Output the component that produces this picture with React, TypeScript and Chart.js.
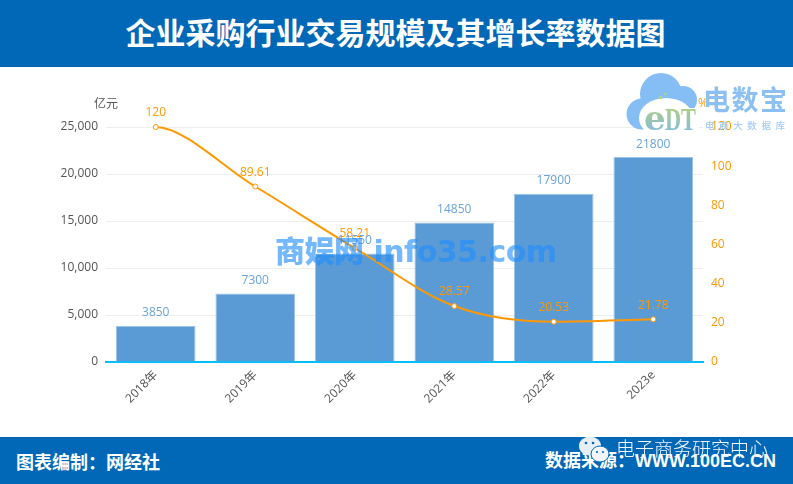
import React, { useEffect, useRef } from "react";
import { Chart, registerables } from "chart.js";

Chart.register(...registerables);

const categories = ["2018年", "2019年", "2020年", "2021年", "2022年", "2023e"];
const scaleValues = [3850, 7300, 11550, 14850, 17900, 21800];
const growthRates = [120, 89.61, 58.21, 28.57, 20.53, 21.78];
const title = "企业采购行业交易规模及其增长率数据图";
const leftUnit = "亿元";
const rightUnit = "%";
const footerLeft = "图表编制：网经社";
const footerRight = "数据来源：WWW.100EC.CN";

const CJK = '"Noto Sans CJK SC", "Noto Sans", sans-serif';
const LATIN = '"Open Sans", "Noto Sans CJK SC", sans-serif';
const BAR = "#5b9bd5";
const ORANGE = "#ff9800";

const flatStartPlugin = {
  id: "flatStartPlugin",
  beforeDatasetsDraw(chart: any) {
    chart.data.datasets.forEach((ds: any, i: number) => {
      if (ds.type !== "line") return;
      const meta = chart.getDatasetMeta(i);
      meta.dataset.updateControlPoints(chart.chartArea, "x");
      const [first, second] = meta.data;
      first.cp2x = first.x + (second.x - first.x) * 0.28;
      first.cp2y = first.y;
    });
  },
};

const labelPlugin = {
  id: "labelPlugin",
  afterDatasetsDraw(chart: any) {
    const { ctx } = chart;
    ctx.save();
    ctx.font = `12px ${LATIN}`;
    ctx.textAlign = "center";
    ctx.textBaseline = "middle";
    chart.data.datasets.forEach((ds: any, i: number) => {
      const meta = chart.getDatasetMeta(i);
      ctx.fillStyle = ds.type === "line" ? ORANGE : "#6aa3da";
      meta.data.forEach((el: any, j: number) => {
        ctx.fillText(String(ds.data[j]), el.x, el.y - (ds.type === "line" ? 14 : 13));
      });
    });
    ctx.fillStyle = "#555";
    ctx.fillText(leftUnit, chart.chartArea.left, 105);
    ctx.fillStyle = ORANGE;
    ctx.fillText(rightUnit, chart.chartArea.right, 104);
    ctx.restore();
  },
};

export default function App() {
  const ref = useRef<HTMLCanvasElement>(null);
  useEffect(() => {
    const chart = new Chart(ref.current as HTMLCanvasElement, {
      type: "bar",
      data: {
        labels: categories,
        datasets: [
          {
            type: "line",
            data: growthRates,
            yAxisID: "y1",
            borderColor: ORANGE,
            borderWidth: 2,
            backgroundColor: "#ffffff",
            pointBackgroundColor: "#ffffff",
            pointBorderColor: ORANGE,
            pointBorderWidth: 1,
            pointRadius: 2.5,
            tension: 0.4,
            cubicInterpolationMode: "monotone",
            clip: false,
            order: 1,
          },
          {
            type: "bar",
            data: scaleValues,
            yAxisID: "y",
            backgroundColor: BAR,
            borderColor: "#9dc3e6",
            borderWidth: 1,
            categoryPercentage: 1,
            barPercentage: 0.8,
            order: 2,
          },
        ],
      } as any,
      options: {
        animation: false,
        responsive: false,
        layout: { padding: { top: 127, left: 0, right: 0, bottom: 0 } },
        plugins: { legend: { display: false }, tooltip: { enabled: false } },
        scales: {
          x: {
            grid: { display: false, drawTicks: false },
            border: { color: "#00bfff", width: 2 },
            ticks: {
              color: "#555",
              font: { size: 12, family: LATIN },
              maxRotation: 45,
              minRotation: 45,
              padding: 6,
            },
            afterFit(s: any) {
              s.height = 122;
            },
          },
          y: {
            position: "left",
            min: 0,
            max: 25000,
            grid: { color: "#eeeeee", drawTicks: false },
            border: { display: false },
            ticks: {
              stepSize: 5000,
              color: "#555",
              padding: 8,
              font: { size: 12, family: LATIN },
              callback: (v: any) => Number(v).toLocaleString("en-US"),
            },
            afterFit(s: any) {
              s.width = 106;
            },
          },
          y1: {
            position: "right",
            min: 0,
            max: 120,
            grid: { display: false, drawTicks: false },
            border: { display: false },
            ticks: {
              stepSize: 20,
              color: ORANGE,
              padding: 8,
              font: { size: 12, family: LATIN },
            },
            afterFit(s: any) {
              s.width = 90;
            },
          },
        },
      } as any,
      plugins: [flatStartPlugin, labelPlugin],
    });
    return () => chart.destroy();
  }, []);

  return (
    <div style={{ position: "fixed", left: 0, top: 0, width: 793, height: 484, background: "#fff", overflow: "hidden", fontFamily: CJK }}>
      <canvas ref={ref} width={793} height={484} style={{ position: "absolute", left: 0, top: 0, display: "block" }} />
      <div style={{ position: "absolute", left: -1, top: 0, width: 793, height: 67, color: "#fff", fontSize: 30, fontWeight: 700, lineHeight: "62px", textAlign: "center", zIndex: 2 }}>
        {title}
      </div>
      <div style={{ position: "absolute", left: 0, top: 0, width: 793, height: 67, background: "#0068b7", zIndex: 1 }} />
      <div style={{ position: "absolute", left: 0, top: 437, width: 793, height: 47, background: "#0068b7" }} />
      <div style={{ position: "absolute", left: 16, top: 449, color: "#fff", fontSize: 18, fontWeight: 700, lineHeight: "24px", whiteSpace: "nowrap" }}>
        {footerLeft}
      </div>
      <div style={{ position: "absolute", left: 545, top: 449, color: "#fff", fontSize: 18, fontWeight: 700, lineHeight: "24px", whiteSpace: "nowrap", fontFamily: `"Liberation Sans", ${CJK}` }}>
        {footerRight}
      </div>
      <svg style={{ position: "absolute", left: 578, top: 434 }} width="34" height="32" viewBox="0 0 34 32">
        <ellipse cx="12" cy="12" rx="11" ry="9.5" fill="#e6eef6" />
        <ellipse cx="22" cy="20" rx="9" ry="8" fill="#f2f6fa" stroke="#0068b7" strokeWidth="1" />
        <circle cx="8" cy="9" r="1.3" fill="#0068b7" />
        <circle cx="15" cy="9" r="1.3" fill="#0068b7" />
        <circle cx="19" cy="18" r="1.1" fill="#0068b7" />
        <circle cx="25" cy="18" r="1.1" fill="#0068b7" />
      </svg>
      <div style={{ position: "absolute", left: 616, top: 435, color: "#f2f5f9", fontSize: 19, lineHeight: "26px", whiteSpace: "nowrap", fontWeight: 300 }}>
        电子商务研究中心
      </div>
      <div style={{ position: "absolute", left: 275, top: 233, color: "rgba(30,140,255,0.62)", fontSize: 30, fontWeight: 900, lineHeight: "38px", whiteSpace: "nowrap", letterSpacing: -0.5, fontFamily: `"DejaVu Sans", ${CJK}` }}>
        商娱网 info35.com
      </div>
      <svg style={{ position: "absolute", left: 625, top: 70 }} width="74" height="64" viewBox="0 0 74 64">
        <defs>
          <linearGradient id="edtFill" x1="0" y1="0" x2="0" y2="1">
            <stop offset="0" stopColor="#b9d467" />
            <stop offset="1" stopColor="#7db9f0" />
          </linearGradient>
        </defs>
        <g fill="#85bdf5">
          <circle cx="17" cy="44" r="15.5" />
          <circle cx="36" cy="24" r="21" />
          <circle cx="58" cy="30" r="14" />
        </g>
        <ellipse cx="41" cy="48" rx="27" ry="20" fill="#ffffff" />
        <rect x="62" y="38" width="12" height="26" fill="#ffffff" />
        <rect x="22" y="60" width="52" height="4" fill="#ffffff" />
        <rect x="34" y="26" width="3" height="3" fill="#b9d467" />
        <rect x="39" y="23" width="2" height="2" fill="#b9d467" />
        <text x="19" y="60" fontFamily='"DejaVu Serif", serif' fontSize="34" fontWeight="700" fill="url(#edtFill)">e</text>
        <text x="40" y="60" fontFamily='"Liberation Serif", serif' fontSize="32" fontWeight="700" textLength="31" lengthAdjust="spacingAndGlyphs" fill="url(#edtFill)">DT</text>
      </svg>
      <div style={{ position: "absolute", left: 703, top: 80, color: "#8cc0f3", fontSize: 27, fontWeight: 700, lineHeight: "38px", letterSpacing: 1.5, whiteSpace: "nowrap" }}>
        电数宝
      </div>
      <div style={{ position: "absolute", left: 705, top: 118, color: "#a5cdf5", fontSize: 9.5, fontWeight: 500, lineHeight: "14px", letterSpacing: 4.6, whiteSpace: "nowrap" }}>
        电商大数据库
      </div>
    </div>
  );
}
